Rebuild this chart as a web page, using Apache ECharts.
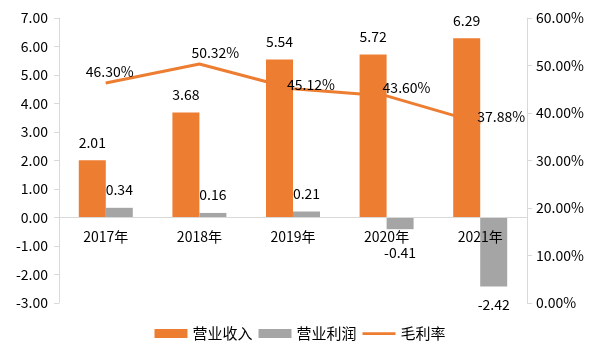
<!DOCTYPE html>
<html><head><meta charset="utf-8">
<script src="https://cdn.jsdelivr.net/npm/echarts@6/dist/echarts.min.js"></script>
<style>html,body{margin:0;padding:0;background:#fff}#c{width:600px;height:360px}</style>
</head><body><div id="c"></div>
<script>
var categories = ['2017年','2018年','2019年','2020年','2021年'];
var revenue = [2.01, 3.68, 5.54, 5.72, 6.29];
var profit = [0.34, 0.16, 0.21, -0.41, -2.42];
var grossMargin = [46.30, 50.32, 45.12, 43.60, 37.88];
var leftTicks = {min: -3, max: 7, interval: 1};
var rightTicks = {min: 0, max: 60, interval: 10};
// label placement (style only)
var marginLabelOffset = [[-20,-11],[-8,-11],[-6,-4],[-4,-8],[-3,-6]];

var FONT = '"Noto Sans CJK SC", "Noto Sans", sans-serif';
var ORANGE = '#ED7D31', GRAY = '#A5A5A5', AXIS = '#D9D9D9';
var GRID_TOP = 18, GRID_BOTTOM = 57, H = 360;
var gridH = H - GRID_TOP - GRID_BOTTOM;
var zeroOffset = -(0 - leftTicks.min) / (leftTicks.max - leftTicks.min) * gridH;

var chart = echarts.init(document.getElementById('c'));
chart.setOption({
  animation: false,
  textStyle: {fontFamily: FONT, fontSize: 14, color: '#000'},
  grid: {left: 59, right: 73, top: GRID_TOP, bottom: GRID_BOTTOM, containLabel: false},
  legend: {
    top: 326, left: 'center', padding: 0, itemWidth: 33, itemHeight: 9, itemGap: 6,
    textStyle: {fontFamily: FONT, fontSize: 15, color: '#000'},
    data: [{name:'营业收入', icon:'rect'},{name:'营业利润', icon:'rect'},
           {name:'毛利率', icon:'path://M0,0L36,0L36,3L0,3Z', itemStyle: {color: ORANGE}}]
  },
  xAxis: {
    type: 'category', data: categories, offset: zeroOffset, z: 10,
    axisLine: {onZero: false, lineStyle: {color: AXIS, width: 1}},
    axisTick: {show: false},
    axisLabel: {fontFamily: FONT, fontSize: 14, color: '#000', margin: 12}
  },
  yAxis: [{
    type: 'value', min: leftTicks.min, max: leftTicks.max, interval: leftTicks.interval,
    axisLine: {show: true, lineStyle: {color: AXIS}},
    axisTick: {show: true, length: 5, lineStyle: {color: AXIS}},
    splitLine: {show: false},
    axisLabel: {fontFamily: FONT, fontSize: 14, color: '#000', margin: 11,
      formatter: function(v){return v.toFixed(2);}}
  },{
    type: 'value', min: rightTicks.min, max: rightTicks.max, interval: rightTicks.interval,
    axisLine: {show: true, lineStyle: {color: AXIS}},
    axisTick: {show: true, length: 5, lineStyle: {color: AXIS}},
    splitLine: {show: false},
    axisLabel: {fontFamily: FONT, fontSize: 14, color: '#000', margin: 9,
      formatter: function(v){return v.toFixed(2) + '%';}}
  }],
  series: [{
    name: '营业收入', type: 'bar', barWidth: 27, barGap: '0%',
    itemStyle: {color: ORANGE},
    label: {show: true, position: 'top', distance: 11, fontFamily: FONT, fontSize: 14, color: '#000',
      formatter: function(p){return p.value.toFixed(2);}},
    data: revenue
  },{
    name: '营业利润', type: 'bar', barWidth: 27, barGap: '0%',
    itemStyle: {color: GRAY},
    label: {show: true, position: 'top', distance: 11, fontFamily: FONT, fontSize: 14, color: '#000',
      formatter: function(p){return p.value.toFixed(2);}},
    data: profit.map(function(v){
      return v < 0 ? {value: v, label: {position: 'bottom', distance: v > -1 ? 17 : 11}} : v;
    })
  },{
    name: '毛利率', type: 'line', yAxisIndex: 1,
    symbol: 'circle', symbolSize: 1, showSymbol: true,
    itemStyle: {color: ORANGE},
    lineStyle: {color: ORANGE, width: 3},
    label: {show: true, position: 'inside', align: 'left', verticalAlign: 'middle',
      fontFamily: FONT, fontSize: 14, color: '#000',
      formatter: function(p){return p.value.toFixed(2) + '%';}},
    data: grossMargin.map(function(v, i){
      return {value: v, label: {offset: marginLabelOffset[i]}};
    })
  }]
});
</script></body></html>
